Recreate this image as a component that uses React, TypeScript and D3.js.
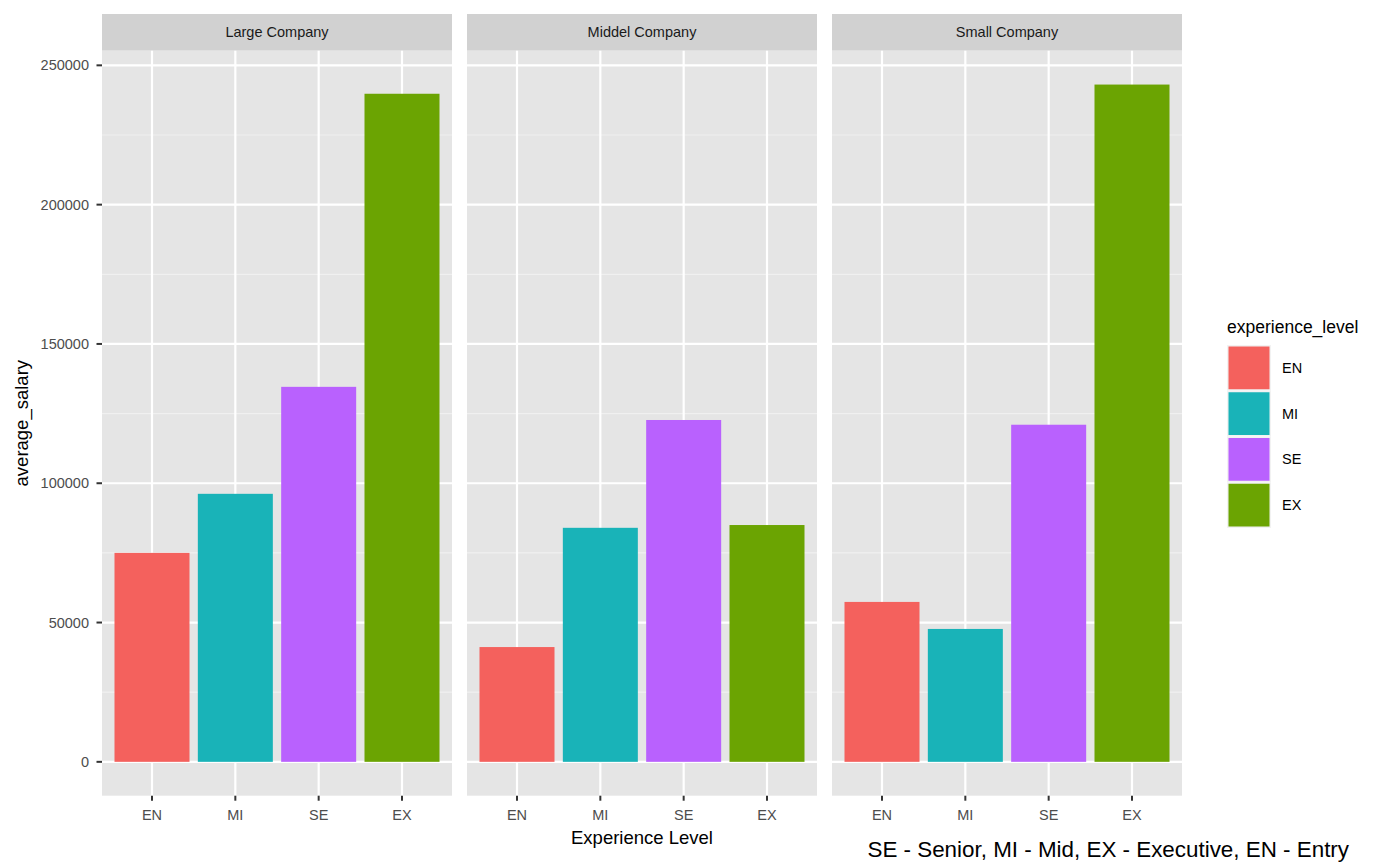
import { scaleBand, scaleLinear, max, range } from "d3";

const companies = ["Large Company", "Middel Company", "Small Company"];
const levels = ["EN", "MI", "SE", "EX"];
const salaryLarge = [75000, 96200, 134600, 239800];
const salaryMiddel = [41200, 84000, 122700, 85000];
const salarySmall = [57400, 47700, 121000, 243100];
const yTicks = [0, 50000, 100000, 150000, 200000, 250000];
const levelColors = ["#F4615D", "#19B3B8", "#B961FE", "#6BA402"];
const caption = "SE - Senior, MI - Mid, EX - Executive, EN - Entry";

const width = 1396;
const height = 862;
const panelTop = 50.7;
const panelBottom = 795.7;
const font = "'Liberation Sans', Arial, Helvetica, sans-serif";

const App = () => {
  const series = [salaryLarge, salaryMiddel, salarySmall];
  const maxVal = max(series.flat()) ?? 0;

  const panelScale = scaleBand<string>()
    .domain(companies)
    .range([102, 1182])
    .paddingInner(15 / 365)
    .paddingOuter(0);
  const pw = panelScale.bandwidth();

  const xScale = scaleBand<string>()
    .domain(levels)
    .range([0, pw])
    .paddingInner(0.1)
    .paddingOuter(0.15);

  const yScale = scaleLinear()
    .domain([-0.05 * maxVal, 1.05 * maxVal])
    .range([panelBottom, panelTop]);

  const minorTicks = range(0, yTicks.length - 1).map(
    (i) => (yTicks[i] + yTicks[i + 1]) / 2
  );

  const keyH = 45.75;
  const keyW = 44;
  const keyX = 1227;
  const keyY = 345;

  return (
    <svg
      width={width}
      height={height}
      style={{ position: "absolute", left: 0, top: 0, background: "#fff" }}
      fontFamily={font}
    >
      {companies.map((c, pi) => {
        const px = panelScale(c) ?? 0;
        return (
          <g key={c} transform={`translate(${px},0)`}>
            {/* strip */}
            <rect x={0} y={14} width={pw} height={panelTop - 14} fill="#d1d1d1" />
            <text
              x={pw / 2}
              y={(14 + panelTop) / 2}
              dy="0.35em"
              textAnchor="middle"
              fontSize={14.5}
              fill="#1a1a1a"
            >
              {c}
            </text>
            {/* panel */}
            <rect
              x={0}
              y={panelTop}
              width={pw}
              height={panelBottom - panelTop}
              fill="#e5e5e5"
            />
            {minorTicks.map((t) => (
              <line
                key={"mn" + t}
                x1={0}
                x2={pw}
                y1={yScale(t)}
                y2={yScale(t)}
                stroke="#f0f0f0"
                strokeWidth={1.2}
              />
            ))}
            {yTicks.map((t) => (
              <line
                key={"mj" + t}
                x1={0}
                x2={pw}
                y1={yScale(t)}
                y2={yScale(t)}
                stroke="#fff"
                strokeWidth={2.2}
              />
            ))}
            {levels.map((l) => {
              const cx = (xScale(l) ?? 0) + xScale.bandwidth() / 2;
              return (
                <line
                  key={"v" + l}
                  x1={cx}
                  x2={cx}
                  y1={panelTop}
                  y2={panelBottom}
                  stroke="#fff"
                  strokeWidth={2.2}
                />
              );
            })}
            {/* bars */}
            {levels.map((l, i) => {
              const v = series[pi][i];
              return (
                <rect
                  key={"b" + l}
                  x={xScale(l)}
                  y={yScale(v)}
                  width={xScale.bandwidth()}
                  height={yScale(0) - yScale(v)}
                  fill={levelColors[i]}
                />
              );
            })}
            {/* x ticks */}
            {levels.map((l) => {
              const cx = (xScale(l) ?? 0) + xScale.bandwidth() / 2;
              return (
                <g key={"xt" + l}>
                  <line
                    x1={cx}
                    x2={cx}
                    y1={panelBottom}
                    y2={panelBottom + 5}
                    stroke="#333"
                    strokeWidth={2}
                  />
                  <text
                    x={cx}
                    y={820}
                    textAnchor="middle"
                    fontSize={14.5}
                    fill="#4d4d4d"
                  >
                    {l}
                  </text>
                </g>
              );
            })}
          </g>
        );
      })}

      {/* y axis */}
      {yTicks.map((t) => (
        <g key={"yt" + t}>
          <line
            x1={96.5}
            x2={102}
            y1={yScale(t)}
            y2={yScale(t)}
            stroke="#333"
            strokeWidth={2}
          />
          <text
            x={89}
            y={yScale(t)}
            dy="0.35em"
            textAnchor="end"
            fontSize={14.5}
            fill="#4d4d4d"
          >
            {t}
          </text>
        </g>
      ))}
      <text
        transform={`translate(28,${(panelTop + panelBottom) / 2}) rotate(-90)`}
        textAnchor="middle"
        fontSize={18.5}
        fill="#000"
      >
        average_salary
      </text>

      {/* x title */}
      <text x={642} y={844} textAnchor="middle" fontSize={18.5} fill="#000">
        Experience Level
      </text>

      {/* legend */}
      <text x={keyX} y={333} fontSize={17.5} fill="#000">
        experience_level
      </text>
      {levels.map((l, i) => (
        <g key={"lg" + l}>
          <rect
            x={keyX}
            y={keyY + i * keyH}
            width={keyW}
            height={keyH}
            fill="#f2f2f2"
          />
          <rect
            x={keyX + 1.5}
            y={keyY + i * keyH + 1.5}
            width={keyW - 3}
            height={keyH - 3}
            fill={levelColors[i]}
          />
          <text
            x={1282}
            y={keyY + i * keyH + keyH / 2}
            dy="0.35em"
            fontSize={14.5}
            fill="#000"
          >
            {l}
          </text>
        </g>
      ))}

      {/* caption */}
      <text x={1349} y={857} textAnchor="end" fontSize={22.4} fill="#000">
        {caption}
      </text>
    </svg>
  );
};

export default App;
